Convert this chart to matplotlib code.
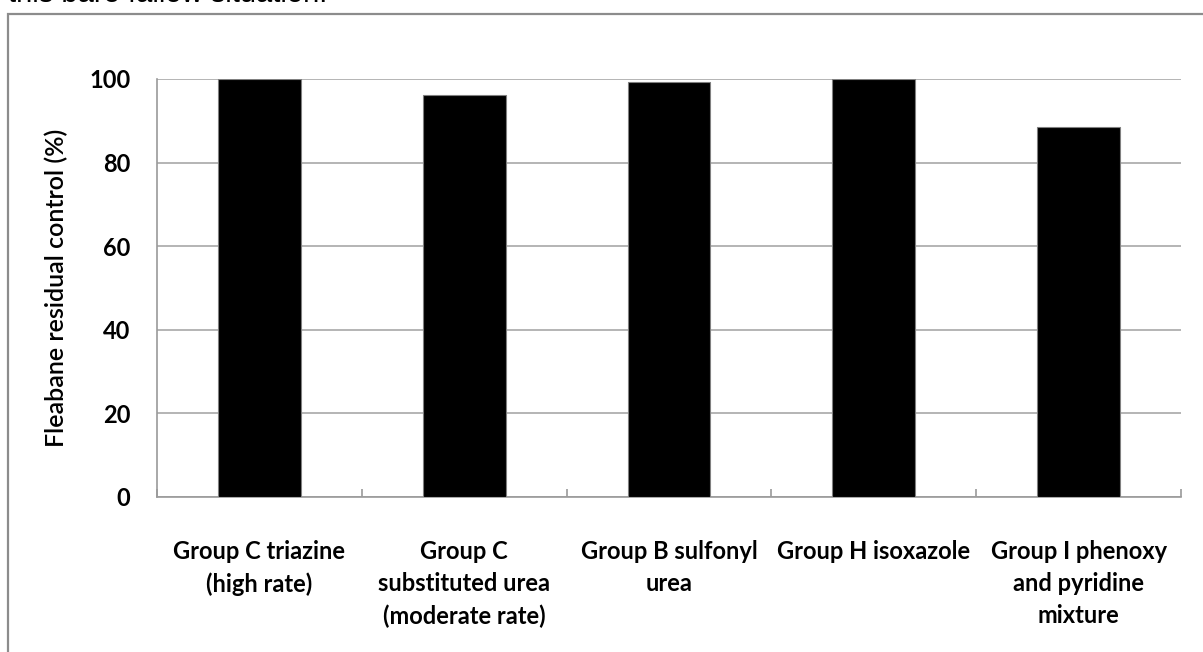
import numpy as np
import matplotlib
matplotlib.use("Agg")
import matplotlib.pyplot as plt
from matplotlib.patches import Rectangle

# herbicide groups and residual control values
groups = [
    "Group C triazine\n(high rate)",
    "Group C\nsubstituted urea\n(moderate rate)",
    "Group B sulfonyl\nurea",
    "Group H isoxazole",
    "Group I phenoxy\nand pyridine\nmixture",
]
control = [100.0, 96.1, 99.2, 99.9, 88.4]
yticks = [0, 20, 40, 60, 80, 100]

plt.rcParams['font.family'] = ['Lato', 'DejaVu Sans']

fig = plt.figure(figsize=(12.03, 6.52), dpi=100)
ax = fig.add_axes([157/1203, 1 - 497/652, (1181 - 157)/1203, (497 - 79)/652])

# outer chart frame (cut off at right and bottom)
fig.patches.append(Rectangle((8/1203, -0.1), 1.2, 1.1 - 14/652,
                             transform=fig.transFigure, fill=False,
                             edgecolor='#8c8c8c', linewidth=1.6))

# leftover caption line from the page above the chart
fig.text(8/1203, 1 - 2.5/652, "this bare fallow situation.", fontsize=21,
         family='Liberation Sans', va='baseline', ha='left', color='black')

x = np.arange(len(groups))
ax.bar(x, control, width=0.405, color='black', edgecolor='#808080',
       linewidth=0.8, zorder=3)

ax.set_xlim(-0.5, len(groups) - 0.5)
ax.set_ylim(0, 100)
ax.set_yticks(yticks)
ax.set_yticklabels([str(v) for v in yticks], fontsize=17, fontweight='bold')
ax.tick_params(axis='y', length=0, pad=19)

ax.set_xticks(x)
ax.set_xticklabels(groups, fontsize=17, fontweight='bold', linespacing=1.47, va='top')
ax.tick_params(axis='x', which='major', length=0, pad=31)
ax.set_xticks(np.arange(-0.5, len(groups)), minor=True)
ax.tick_params(axis='x', which='minor', direction='in', length=6,
               color='#9a9a9a', width=1.2)

ax.set_ylabel("Fleabane residual control (%)", fontsize=18,
              fontweight='semibold')
ax.yaxis.set_label_coords(-0.087, 0.5)

ax.yaxis.grid(True, color='#a0a0a0', linewidth=1.1)
ax.set_axisbelow(True)
for s in ['top', 'right']:
    ax.spines[s].set_visible(False)
for s in ['left', 'bottom']:
    ax.spines[s].set_color('#9a9a9a')
    ax.spines[s].set_linewidth(1.2)

plt.savefig("out.png", dpi=100)
